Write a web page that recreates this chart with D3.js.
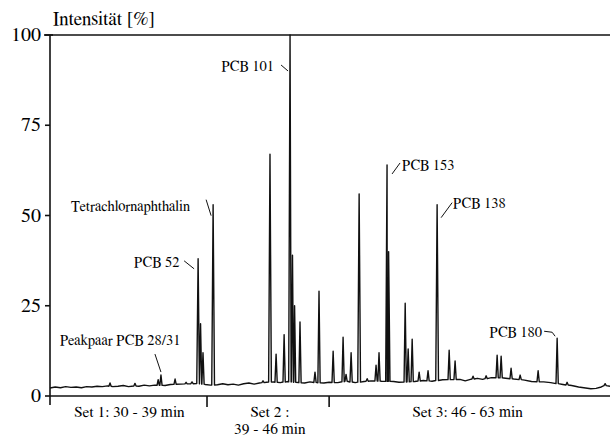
<!DOCTYPE html>
<html><head><meta charset="utf-8">
<script src="https://cdn.jsdelivr.net/npm/d3@7"></script>
</head><body style="margin:0"><svg id="c" width="610" height="437"></svg>
<script>
// ---- data (retention time in min, intensity in %) ----
const peakTime = [33.44,34.87,36.2,36.36,37.17,37.8,38.14,38.49,38.63,38.77,39.35,42.21,42.61,42.96,43.42,43.76,43.9,44.02,44.33,45.19,45.42,46.23,46.8,46.97,47.26,47.72,48.18,48.69,48.86,49.32,49.41,50.36,50.53,50.76,51.16,51.67,52.19,52.88,53.22,54.25,55.0,55.63,55.86,56.43,56.95,57.98,59.07,59.64,61.82];
const peakHeight = [3.6,3.5,4.5,5.8,4.7,3.8,3.9,38,20,12,53,4.2,67,11.6,17,100,39,25,20.5,6.6,29,12.4,16.3,6,12,56,4.8,8.5,12,64,40,25.7,13,15.7,6.6,7,53,12.7,9.7,5.5,5.6,11.3,11,7.7,5.8,7,16,3.8,3.4];
const baseTime = [30.0,30.3,30.6,30.9,31.2,31.5,31.8,32.1,32.4,32.7,33.0,33.3,33.6,33.9,34.2,34.5,34.8,35.1,35.4,35.7,36.0,36.6,36.9,37.5,38.1,38.4,38.9,39.2,39.6,39.9,40.2,40.5,40.8,41.1,41.4,41.7,42.0,42.4,42.8,43.2,43.6,44.0,44.6,44.9,45.3,45.7,46.0,46.5,47.0,47.5,48.0,48.4,49.0,49.7,50.0,50.9,51.4,51.9,52.5,53.5,53.8,54.1,54.5,54.8,55.3,56.0,56.6,57.2,57.6,58.3,58.7,59.4,59.9,60.3,60.7,61.0,61.3,61.6,61.9,62.1];
const baseValue = [2.2,2.5,2.3,2.6,2.4,2.5,2.3,2.6,2.5,2.7,2.6,2.8,2.6,2.7,2.9,2.6,2.8,2.7,3.0,2.8,3.0,2.9,3.2,3.3,3.4,3.5,3.2,3.0,3.1,3.4,3.1,3.3,3.0,3.4,3.6,3.3,3.6,3.8,3.9,3.7,4.0,3.8,3.6,3.9,3.7,3.6,3.8,3.7,4.1,3.7,4.0,4.2,4.1,4.0,3.8,4.0,4.3,4.1,4.5,4.6,4.2,4.6,4.9,4.6,5.1,5.0,4.7,4.4,4.0,3.9,3.7,3.2,2.9,2.5,2.2,2.0,2.1,2.5,3.0,2.7];
const yTicks = [0,25,50,75,100];
const setBounds = [39,46];
const setLabels = [["Set 1: 30 - 39 min"],["Set 2 :","39 - 46 min"],["Set 3: 46 - 63 min"]];
const setCenters = [34.56,42.6,53.94];
const annoText = ["Peakpaar PCB 28/31","PCB 52","Tetrachlornaphthalin","PCB 101","PCB 153","PCB 138","PCB 180"];
const annoPeak = [36.36,38.49,39.35,43.76,49.32,52.19,59.07];

// ---- layout ----
const FONT = "FreeSerif";
const svg = d3.select("#c");
const x = d3.scaleLinear().domain([30,62.1]).range([50,610]);
const y = d3.scaleLinear().domain([0,100]).range([396,35]);

// trace
const base = d3.scaleLinear().domain(baseTime).range(baseValue);
const dw = 0.065;
let pts = baseTime.filter(t => !peakTime.some(p => Math.abs(p - t) < dw*1.5)).map(t => [t, base(t)]);
peakTime.forEach((t,i) => {
  const w = peakHeight[i] > 30 ? dw*1.2 : dw;
  pts.push([t - w, base(t)], [t, peakHeight[i]], [t + w, base(t)]);
});
pts.sort((a,b) => a[0]-b[0]);
svg.append("path").datum(pts)
  .attr("d", d3.line().x(d => x(d[0])).y(d => y(d[1])))
  .attr("fill","none").attr("stroke","#111").attr("stroke-width",1.4).attr("stroke-linejoin","round");

// axes frame
const g = svg.append("g").attr("stroke","#111").attr("stroke-width",1.6);
g.append("line").attr("x1",x(30)).attr("x2",x(62.1)).attr("y1",y(100)).attr("y2",y(100));
g.append("line").attr("x1",x(30)).attr("x2",x(62.1)).attr("y1",y(0)).attr("y2",y(0));
g.append("line").attr("x1",x(30)).attr("x2",x(30)).attr("y1",y(100)).attr("y2",y(0)+9);
yTicks.forEach(v => g.append("line").attr("x1",x(30)-5).attr("x2",x(30)).attr("y1",y(v)).attr("y2",y(v)));
g.append("line").attr("x1",x(30)-6).attr("x2",x(30)+3).attr("y1",y(100)).attr("y2",y(100));
setBounds.forEach(t => g.append("line").attr("x1",x(t)).attr("x2",x(t)).attr("y1",y(0)).attr("y2",y(0)+11));

svg.selectAll(".yl").data(yTicks).join("text")
  .style("font-family",FONT).style("font-size","20px")
  .attr("x",x(30)-9).attr("y",d=>y(d)+6).attr("text-anchor","end").text(d=>d);
svg.append("text").style("font-family",FONT).style("font-size","19px")
  .attr("x",53).attr("y",25).text("Intensität [%]");

// set labels
setLabels.forEach((lines,i) => lines.forEach((s,j) =>
  svg.append("text").style("font-family",FONT).style("font-size","15.5px")
    .attr("x",x(setCenters[i])).attr("y",y(0)+21+j*17)
    .attr("text-anchor","middle").text(s)));

// annotations: text anchor offset from apex, anchor, leader points relative to apex
const annoLayout = [
  {dx:-101,dy:-30,a:"start",l:[[-6,-21],[0,-3]]},
  {dx:-64,dy:8,a:"start",l:[[-14,2],[-4,10]]},
  {dx:-142,dy:6,a:"start",l:[[-7,-5],[-2,11]]},
  {dx:-16,dy:36,a:"end",l:[[-9,30],[-2,36]]},
  {dx:15,dy:5,a:"start",l:[[13,-2],[5,9]]},
  {dx:16,dy:3,a:"start",l:[[15,-2],[4,13]]},
  {dx:-15,dy:-1,a:"end",l:[[-13,-7],[-5,-6],[-2,-2]]}
];
annoText.forEach((s,i) => {
  const k = peakTime.indexOf(annoPeak[i]);
  const px = x(annoPeak[i]), py = y(peakHeight[k]);
  const L = annoLayout[i];
  svg.append("text").style("font-family",FONT).style("font-size","14.5px")
    .attr("x",px+L.dx).attr("y",py+L.dy).attr("text-anchor",L.a).text(s);
  svg.append("path").attr("d", d3.line()(L.l.map(p=>[px+p[0],py+p[1]])))
    .attr("fill","none").attr("stroke","#111").attr("stroke-width",1);
});
</script></body></html>
